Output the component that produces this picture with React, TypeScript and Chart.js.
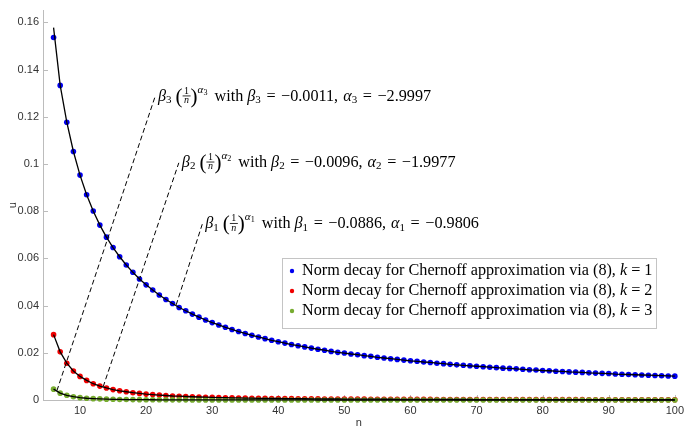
import React, { useEffect, useRef } from 'react';
import { Chart, registerables } from 'chart.js';

Chart.register(...registerables);

// ---------- data ----------
const N_VALUES = Array.from({ length: 95 }, (_, i) => i + 6); // n = 6 .. 100

const U_K1 = [
  0.1536, 0.1333, 0.1177, 0.1053, 0.0953, 0.0870, 0.0801, 0.0741, 0.0690, 0.0646,
  0.0607, 0.0572, 0.0541, 0.0513, 0.0488, 0.0466, 0.0445, 0.0426, 0.0409, 0.0392,
  0.0378, 0.0364, 0.0351, 0.0339, 0.0328, 0.0318, 0.0308, 0.0299, 0.0290, 0.0282,
  0.0274, 0.0267, 0.0260, 0.0253, 0.0247, 0.0241, 0.0235, 0.0230, 0.0225, 0.0220,
  0.0215, 0.0211, 0.0206, 0.0202, 0.0199, 0.0195, 0.0192, 0.0188, 0.0185, 0.0181,
  0.0178, 0.0175, 0.0172, 0.0169, 0.0166, 0.0164, 0.0161, 0.0159, 0.0156, 0.0154,
  0.0151, 0.0149, 0.0147, 0.0145, 0.0143, 0.0141, 0.0139, 0.0137, 0.0135, 0.0134,
  0.0132, 0.0130, 0.0128, 0.0127, 0.0125, 0.0124, 0.0122, 0.0121, 0.0119, 0.0118,
  0.0117, 0.0115, 0.0114, 0.0113, 0.0112, 0.0110, 0.0109, 0.0108, 0.0107, 0.0106,
  0.0105, 0.0104, 0.0103, 0.0102, 0.0101,
];

const U_K2 = [
  0.0277, 0.0204, 0.0156, 0.0123, 0.0100, 0.0083, 0.0069, 0.0059, 0.0051, 0.0044,
  0.0039, 0.0035, 0.0031, 0.0028, 0.0025, 0.0023, 0.0021, 0.0019, 0.0017, 0.0016,
  0.00148, 0.00137, 0.00128, 0.00119, 0.00111, 0.00104, 0.00098, 0.00092, 0.00087, 0.00082,
  0.00077, 0.00073, 0.00069, 0.00066, 0.00063, 0.00059, 0.00057, 0.00054, 0.00052, 0.00049,
  0.00047, 0.00045, 0.00043, 0.00042, 0.00040, 0.00038, 0.00037, 0.00036, 0.00034, 0.00033,
  0.00032, 0.00031, 0.00030, 0.00029, 0.00028, 0.00027, 0.00026, 0.00025, 0.00024, 0.00024,
  0.00023, 0.00022, 0.00022, 0.00021, 0.00020, 0.00020, 0.00019, 0.00019, 0.00018, 0.00018,
  0.00017, 0.00017, 0.00016, 0.00016, 0.00016, 0.00015, 0.00015, 0.00015, 0.00014, 0.00014,
  0.00014, 0.00013, 0.00013, 0.00013, 0.00012, 0.00012, 0.00012, 0.00012, 0.00011, 0.00011,
  0.00011, 0.00011, 0.00010, 0.00010, 0.00010,
];

const U_K3 = [
  0.0046, 0.0029, 0.0020, 0.0014, 0.0010, 0.00075, 0.00058, 0.00046, 0.00036, 0.00030,
  0.00024, 0.00020, 0.00017, 0.00015, 0.00013, 0.00011, 0.00009, 0.00008, 0.00007, 0.00006,
  0.00006, 0.00005, 0.00005, 0.00004, 0.00004, 0.00003, 0.00003, 0.00003, 0.00003, 0.00002,
  0.00002, 0.00002, 0.00002, 0.00002, 0.00002, 0.00002, 0.00002, 0.00002, 0.00002, 0.00002,
  0.00001, 0.00001, 0.00001, 0.00001, 0.00001, 0.00001, 0.00001, 0.00001, 0.00001, 0.00001,
  0.00001, 0.00001, 0.00001, 0.00001, 0.00001, 0.00001, 0.00001, 0.00001, 0.00001, 0.00001,
  0.00001, 0.00001, 0.00001, 0.00001, 0.00001, 0.00001, 0.00001, 0.00001, 0.00001, 0.00001,
  0.00001, 0.00001, 0.00001, 0.00001, 0.00001, 0.00001, 0.00001, 0.00001, 0.00001, 0.00001,
  0.00001, 0.00001, 0.00001, 0.00001, 0.00001, 0.00001, 0.00001, 0.00001, 0.00001, 0.00001,
  0.00001, 0.00001, 0.00001, 0.00001, 0.00001,
];

// fitted curves (first fitted value differs slightly from data)
const FIT_K1 = [0.1578, ...U_K1.slice(1)];
const FIT_K2 = [...U_K2];
const FIT_K3 = [...U_K3];

const SERIES_COLORS = ['#0000f0', '#f00000', '#77ac30'];
const LEGEND_K = ['1', '2', '3'];

// annotation leader lines (k = 1, 2, 3), data coordinates
const ANNOT_START_N = [24.55, 13.5, 6.5];
const ANNOT_START_U = [0.0403, 0.0056, 0.0039];
const ANNOT_END_N = [28.5, 24.95, 21.35];
const ANNOT_END_U = [0.0745, 0.1005, 0.1285];
const ANNOT_BETA = ['\u22120.0886', '\u22120.0096', '\u22120.0011'];
const ANNOT_ALPHA = ['\u22120.9806', '\u22121.9977', '\u22122.9997'];

const X_TICKS = [10, 20, 30, 40, 50, 60, 70, 80, 90, 100];
const X_TICK_LABELS = ['10', '20', '30', '40', '50', '60', '70', '80', '90', '100'];
const Y_TICKS = [0, 0.02, 0.04, 0.06, 0.08, 0.1, 0.12, 0.14, 0.16];
const Y_TICK_LABELS = ['0', '0.02', '0.04', '0.06', '0.08', '0.1', '0.12', '0.14', '0.16'];

// ---------- styling helpers ----------
const SERIF = '"Liberation Serif", "Times New Roman", serif';
const SANS = '"Liberation Sans", Arial, Helvetica, sans-serif';
const F = 16.2;
const AXIS_COLOR = '#bcbcbc';
const TEXT_COLOR = '#333333';

const fnt = (size: number, italic = false) => `${italic ? 'italic ' : ''}${size}px ${SERIF}`;

type Seg =
  | { t: string; size: number; italic?: boolean; dy?: number; dx?: number }
  | { frac: [string, string] };

function drawMath(ctx: CanvasRenderingContext2D, x0: number, y: number, segs: Seg[]) {
  let x = x0;
  ctx.textBaseline = 'alphabetic';
  ctx.textAlign = 'left';
  for (const s of segs) {
    if ('frac' in s) {
      const [num, den] = s.frac;
      ctx.font = fnt(10);
      const w1 = ctx.measureText(num).width;
      ctx.font = fnt(10, true);
      const w2 = ctx.measureText(den).width;
      const w = Math.max(w1, w2) + 3;
      ctx.font = fnt(10);
      ctx.fillText(num, x + (w - w1) / 2, y - 6.8);
      ctx.fillRect(x, y - 5.2, w, 0.8);
      ctx.font = fnt(10, true);
      ctx.fillText(den, x + (w - w2) / 2, y + 2.6);
      x += w;
    } else {
      ctx.font = fnt(s.size, !!s.italic);
      x += s.dx || 0;
      ctx.fillText(s.t, x, y + (s.dy || 0));
      x += ctx.measureText(s.t).width;
    }
  }
  return x;
}

const overlayPlugin = {
  id: 'overlay',
  beforeDatasetsDraw(chart: any) {
    const ctx: CanvasRenderingContext2D = chart.ctx;
    const xs = chart.scales.x;
    const ys = chart.scales.y;
    const area = chart.chartArea;
    ctx.save();
    ctx.strokeStyle = AXIS_COLOR;
    ctx.lineWidth = 1;
    ctx.beginPath();
    for (const v of X_TICKS) {
      const px = Math.round(xs.getPixelForValue(v)) + 0.5;
      ctx.moveTo(px, area.bottom);
      ctx.lineTo(px, area.bottom - 5);
    }
    for (const v of Y_TICKS) {
      const py = Math.round(ys.getPixelForValue(v)) + 0.5;
      ctx.moveTo(area.left, py);
      ctx.lineTo(area.left + 5, py);
    }
    ctx.stroke();
    ctx.restore();
  },
  afterDraw(chart: any) {
    const ctx: CanvasRenderingContext2D = chart.ctx;
    const xs = chart.scales.x;
    const ys = chart.scales.y;
    const area = chart.chartArea;
    ctx.save();

    // axis titles
    ctx.fillStyle = TEXT_COLOR;
    ctx.font = `11px ${SANS}`;
    ctx.textAlign = 'center';
    ctx.textBaseline = 'middle';
    ctx.fillText('n', (area.left + area.right) / 2, 423);
    ctx.save();
    ctx.translate(12.5, (area.top + area.bottom) / 2);
    ctx.rotate(-Math.PI / 2);
    ctx.fillText('u', 0, 0);
    ctx.restore();

    // annotation labels
    ctx.fillStyle = '#000';
    for (let i = 0; i < ANNOT_END_N.length; i++) {
      const k = String(i + 1);
      const px = xs.getPixelForValue(ANNOT_END_N[i]) + 3;
      const py = ys.getPixelForValue(ANNOT_END_U[i]) + 4;
      drawMath(ctx, px, py, [
        { t: '\u03b2', size: F, italic: true },
        { t: k, size: F * 0.68, dy: 2.5 },
        { t: '(', size: F * 1.3, dy: 2, dx: 4 },
        { frac: ['1', 'n'] },
        { t: ')', size: F * 1.3, dy: 2 },
        { t: '\u03b1', size: F * 0.68, italic: true, dy: -8 },
        { t: k, size: F * 0.5, dy: -6 },
        { t: ' with ', size: F, dx: 3 },
        { t: '\u03b2', size: F, italic: true },
        { t: k, size: F * 0.68, dy: 2.5 },
        { t: ' = ', size: F, dx: 1.5 },
        { t: ANNOT_BETA[i] + ', ', size: F, dx: 1.5 },
        { t: '\u03b1', size: F, italic: true, dx: 1 },
        { t: k, size: F * 0.68, dy: 2.5 },
        { t: ' = ', size: F, dx: 1.5 },
        { t: ANNOT_ALPHA[i], size: F, dx: 1.5 },
      ]);
    }

    // legend box
    const lx = 282.5, ly = 258.5, lw = 374, lh = 70;
    ctx.fillStyle = '#ffffff';
    ctx.fillRect(lx, ly, lw, lh);
    ctx.strokeStyle = '#c4c4c4';
    ctx.lineWidth = 1;
    ctx.strokeRect(lx, ly, lw, lh);
    for (let i = 0; i < LEGEND_K.length; i++) {
      const base = 275 + i * 20;
      ctx.fillStyle = SERIES_COLORS[i];
      ctx.beginPath();
      ctx.arc(292, base - 4, 2.2, 0, Math.PI * 2);
      ctx.fill();
      ctx.fillStyle = '#000';
      drawMath(ctx, 302, base, [
        { t: 'Norm decay for Chernoff approximation via (8), ', size: F },
        { t: 'k', size: F, italic: true },
        { t: ' = ' + LEGEND_K[i], size: F },
      ]);
    }
    ctx.restore();
  },
};

function pts(ys: number[]) {
  return N_VALUES.map((n, i) => ({ x: n, y: ys[i] }));
}

export default function App() {
  const ref = useRef<HTMLCanvasElement>(null);

  useEffect(() => {
    const canvas = ref.current;
    if (!canvas) return;
    const seriesData = [U_K1, U_K2, U_K3];
    const fitData = [FIT_K1, FIT_K2, FIT_K3];

    const datasets: any[] = [];
    fitData.forEach((d, i) => {
      datasets.push({
        label: 'fit' + (i + 1),
        data: pts(d),
        showLine: true,
        borderColor: '#000',
        borderWidth: 1.3,
        pointRadius: 0,
        fill: false,
        clip: false,
        order: 0,
      });
    });
    ANNOT_START_N.forEach((_, i) => {
      datasets.push({
        label: 'annot' + (i + 1),
        data: [
          { x: ANNOT_START_N[i], y: ANNOT_START_U[i] },
          { x: ANNOT_END_N[i], y: ANNOT_END_U[i] },
        ],
        showLine: true,
        borderColor: '#000',
        borderWidth: 1,
        borderDash: [5, 3],
        pointRadius: 0,
        fill: false,
        clip: false,
        order: 1,
      });
    });
    seriesData.forEach((d, i) => {
      datasets.push({
        label: 'Norm decay k=' + (i + 1),
        data: pts(d),
        showLine: false,
        pointRadius: 2.8,
        pointBorderWidth: 0,
        pointBackgroundColor: SERIES_COLORS[i],
        backgroundColor: SERIES_COLORS[i],
        borderColor: SERIES_COLORS[i],
        clip: false,
        order: 9 - i,
      });
    });

    const chart = new Chart(canvas, {
      type: 'scatter',
      data: { datasets },
      plugins: [overlayPlugin],
      options: {
        animation: false,
        responsive: false,
        devicePixelRatio: 1,
        events: [],
        layout: { padding: { left: 0, right: 10, top: 7, bottom: 0 } },
        plugins: { legend: { display: false }, tooltip: { enabled: false }, title: { display: false } },
        scales: {
          x: {
            type: 'linear',
            min: 4.4,
            max: 100,
            afterFit: (s: any) => { s.height = 27; },
            afterBuildTicks: (s: any) => { s.ticks = X_TICKS.map((v) => ({ value: v })); },
            grid: { display: false, drawTicks: false },
            border: { display: true, color: AXIS_COLOR, width: 1 },
            ticks: {
              padding: 4,
              color: TEXT_COLOR,
              font: { family: SANS, size: 11 },
              maxRotation: 0,
              autoSkip: false,
              callback: (_v: any, i: number) => X_TICK_LABELS[i],
            },
          },
          y: {
            type: 'linear',
            min: 0,
            max: 0.165,
            afterFit: (s: any) => { s.width = 43; },
            afterBuildTicks: (s: any) => { s.ticks = Y_TICKS.map((v) => ({ value: v })); },
            grid: { display: false, drawTicks: false },
            border: { display: true, color: AXIS_COLOR, width: 1 },
            ticks: {
              padding: 4,
              color: TEXT_COLOR,
              font: { family: SANS, size: 11 },
              autoSkip: false,
              callback: (_v: any, i: number) => Y_TICK_LABELS[i],
            },
          },
        },
      } as any,
    });
    return () => chart.destroy();
  }, []);

  return (
    <div style={{ position: 'fixed', left: 0, top: 0, width: 688, height: 427, background: '#ffffff' }}>
      <canvas ref={ref} width={688} height={427} style={{ display: 'block', width: 688, height: 427 }} />
    </div>
  );
}
